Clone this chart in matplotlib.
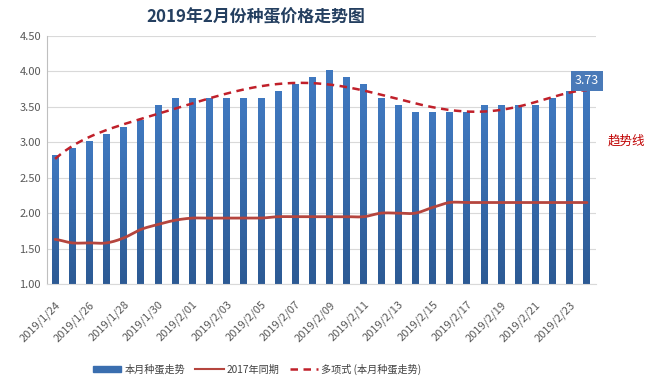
import numpy as np
import matplotlib
matplotlib.use("Agg")
import matplotlib.pyplot as plt
from matplotlib.patches import Patch
from matplotlib.lines import Line2D
from matplotlib.colors import LinearSegmentedColormap

plt.rcParams['font.family'] = ['Noto Sans CJK SC', 'DejaVu Sans']

# 日期 (1/24 - 2/24)
dates = ["2019/1/%d" % d for d in range(24, 32)] + ["2019/2/%02d" % d for d in range(1, 25)]

# 本月种蛋走势
price_2019 = [2.82, 2.92, 3.02, 3.12, 3.22, 3.32, 3.52, 3.62, 3.62, 3.62, 3.62, 3.62,
              3.62, 3.72, 3.82, 3.92, 4.02, 3.92, 3.82, 3.62, 3.52, 3.43, 3.43, 3.43,
              3.43, 3.52, 3.52, 3.52, 3.52, 3.62, 3.72, 3.73]

# 2017年同期
price_2017 = [1.63, 1.58, 1.58, 1.58, 1.65, 1.77, 1.84, 1.90, 1.93, 1.93, 1.93, 1.93,
              1.93, 1.95, 1.95, 1.95, 1.95, 1.95, 1.95, 2.00, 2.00, 2.00, 2.08, 2.15,
              2.15, 2.15, 2.15, 2.15, 2.15, 2.15, 2.15, 2.15]

BAR_COLOR = '#3A6EAF'
LINE_2017 = '#B5453E'
TREND_COLOR = '#C0202A'
bar_cmap = LinearSegmentedColormap.from_list('bar', ['#2C5A94', '#4079C0'])


def smooth(x, y, n=12):
    # Catmull-Rom 平滑 (类似 Excel 平滑线)
    x = np.asarray(x, float)
    y = np.asarray(y, float)
    px = np.concatenate([[2 * x[0] - x[1]], x, [2 * x[-1] - x[-2]]])
    py = np.concatenate([[y[0]], y, [y[-1]]])
    xs, ys = [], []
    for i in range(1, len(px) - 2):
        t = np.linspace(0, 1, n, endpoint=False)
        for arr, out in ((px, xs), (py, ys)):
            p0, p1, p2, p3 = arr[i - 1], arr[i], arr[i + 1], arr[i + 2]
            out.extend(0.5 * (2 * p1 + (-p0 + p2) * t + (2 * p0 - 5 * p1 + 4 * p2 - p3) * t ** 2
                              + (-p0 + 3 * p1 - 3 * p2 + p3) * t ** 3))
    xs.append(x[-1])
    ys.append(y[-1])
    return np.array(xs), np.array(ys)


x = np.arange(len(dates))

fig = plt.figure(figsize=(6.5, 3.84), dpi=100)
ax = fig.add_axes([46.5 / 650, 100 / 384, 549 / 650, 248 / 384])

bars = ax.bar(x, price_2019, width=0.4, color=BAR_COLOR, zorder=2)
# 渐变填充
grad = np.linspace(1, 0, 256).reshape(-1, 1)
for b in bars:
    b.set_facecolor('none')
    b.set_edgecolor('none')
    im = ax.imshow(grad, cmap=bar_cmap, aspect='auto', zorder=2,
                   extent=[b.get_x(), b.get_x() + b.get_width(), 1.0, b.get_height()])
    im.set_clip_path(b)
ax.set_xlim(-0.5, len(dates) - 0.5)
ax.set_ylim(1.0, 4.5)

sx, sy = smooth(x, price_2017)
ax.plot(sx, sy, color=LINE_2017, lw=2.0, zorder=3, solid_capstyle='round')

# 多项式趋势线 (6阶)
coef = np.polyfit(x, price_2019, 6)
tx = np.linspace(x[0], x[-1], 200)
ax.plot(tx, np.polyval(coef, tx), color=TREND_COLOR, lw=1.8, ls=(0, (3, 2.2)), zorder=4)

ax.set_yticks(np.arange(1.0, 4.51, 0.5))
ax.set_yticklabels(["%.2f" % v for v in np.arange(1.0, 4.51, 0.5)])
ax.grid(axis='y', color='#D9D9D9', lw=0.8, zorder=0)
ax.set_axisbelow(True)

ax.set_xticks(x[::2])
ax.set_xticklabels(dates[::2], rotation=45, ha='right', va='top', rotation_mode='anchor')
ax.tick_params(axis='both', length=0, labelsize=8, colors='#595959', pad=4)
ax.tick_params(axis='x', pad=11)

for s in ['top', 'right']:
    ax.spines[s].set_visible(False)
ax.spines['left'].set_color('#BFBFBF')
ax.spines['bottom'].set_color('#D9D9D9')

# 最后一个数据标签
ax.annotate("%.2f" % price_2019[-1], xy=(x[-1], price_2019[-1]), xytext=(0, 7),
            textcoords='offset points', ha='center', va='center', color='white', fontsize=9,
            bbox=dict(boxstyle='square,pad=0.3', fc='#4A7AB8', ec='none'), zorder=5)

fig.text(256 / 650, 1 - 17 / 384, "2019年2月份种蛋价格走势图", ha='center', va='center',
         fontsize=12.2, fontweight='bold', color='#243F60')
fig.text(626 / 650, 1 - 141 / 384, "趋势线", ha='center', va='center', fontsize=9, color='#C00000')

handles = [Patch(color=BAR_COLOR),
           Line2D([], [], color=LINE_2017, lw=1.5),
           Line2D([], [], color=TREND_COLOR, lw=1.8, ls=(0, (3, 2.2)))]
labels = ["本月种蛋走势", "2017年同期", "多项式 (本月种蛋走势)"]
fig.legend(handles, labels, loc='center', bbox_to_anchor=(257 / 650, 1 - 369 / 384), ncol=3,
           frameon=False, fontsize=7.3, handlelength=2.8, handleheight=0.6, columnspacing=1.0,
           handletextpad=0.3, labelcolor='#404040')

fig.savefig("out.png", dpi=100)
